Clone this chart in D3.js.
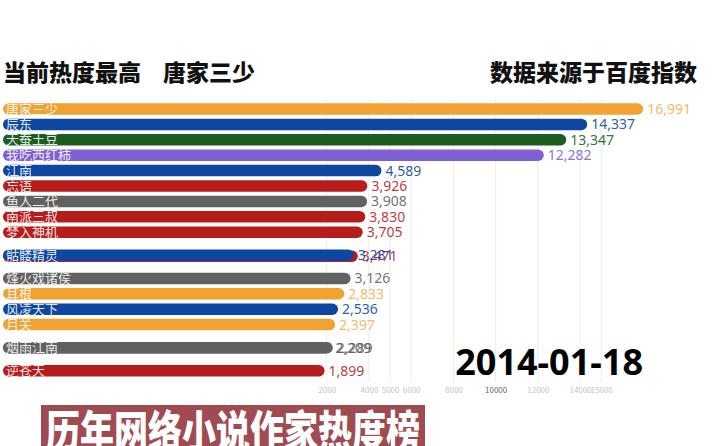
<!DOCTYPE html>
<html lang="zh">
<head>
  <meta charset="UTF-8">
  <title>历年网络小说作家热度榜</title>
  <script src="https://d3js.org/d3.v7.min.js"></script>
  <style>
    body { margin: 0; background: #fff; }
    text { font-family: "Noto Sans CJK SC", "Noto Sans", sans-serif; }
  </style>
</head>
<body>
  <div id="chart"></div>
  <script>

    // frame data (mid-transition frame, so some ranks are fractional)
    var names  = ["唐家三少", "辰东", "天蚕土豆", "我吃西红柿", "江南", "忘语", "鱼人二代", "南派三叔", "梦入神机",
                  "", "骷髅精灵", "烽火戏诸侯", "耳根", "风凌天下", "月关", "", "烟雨江南", "逆苍天"];
    var values = [16991, 14337, 13347, 12282, 4589, 3926, 3908, 3830, 3705,
                  3471, 3281, 3126, 2833, 2536, 2397, 2209, 2289, 1899];
    var ranks  = [0, 1, 2, 3, 4, 5, 6, 7, 8, 9.56, 9.5, 11, 12, 13, 14, 15.5, 15.5, 17];
    var colors = ["#f0a232", "#0d47a1", "#1b5e20", "#7e5fd4", "#0d47a1", "#b71c1c", "#616161", "#b71c1c", "#b71c1c",
                  "#b71c1c", "#0d47a1", "#616161", "#f0a232", "#0d47a1", "#f0a232", "#616161", "#616161", "#b71c1c"];
    var tickValues = [2000, 4000, 5000, 6000, 8000, 10000, 12000, 14000, 15000];
    var currentDate = "2014-01-18";

    var width = 714, height = 446;

    var svg = d3.select("#chart")
      .append("svg")
      .attr("width", width)
      .attr("height", height);

    // x scale: bars grow from the left edge of the plot
    var x = d3.scaleLinear()
      .domain([-13335, 17000])
      .range([3, 643.4]);

    var y = d3.scaleLinear()
      .domain([0, 17])
      .range([109, 370.8]);

    var barH = 11.5;

    // grid lines
    svg.append("g")
      .selectAll("line")
      .data(tickValues)
      .enter()
      .append("line")
      .attr("x1", function (d) { return x(d); })
      .attr("x2", function (d) { return x(d); })
      .attr("y1", 100)
      .attr("y2", 382)
      .attr("stroke", "#ececec")
      .attr("stroke-width", 1);

    // axis labels
    var axis = svg.append("g")
      .attr("transform", "translate(0,384)")
      .call(d3.axisBottom(x).tickValues(tickValues).tickSize(0).tickFormat(d3.format("d")));
    axis.select(".domain").remove();
    axis.selectAll("text")
      .attr("font-size", 8)
      .attr("fill", function (d) { return d === 10000 ? "#666" : "#c4c4c4"; });

    // bars
    var data = names.map(function (n, i) {
      return { name: n, value: values[i], rank: ranks[i], color: colors[i] };
    });

    var bar = svg.append("g")
      .selectAll("g")
      .data(data)
      .enter()
      .append("g")
      .attr("transform", function (d) { return "translate(0," + y(d.rank) + ")"; });

    bar.append("rect")
      .attr("x", x.range()[0])
      .attr("y", -barH / 2)
      .attr("width", function (d) { return x(d.value) - x.range()[0]; })
      .attr("height", barH)
      .attr("rx", barH / 2)
      .attr("fill", function (d) { return d.color; });

    bar.append("text")
      .attr("x", 6)
      .attr("dy", "0.36em")
      .attr("font-size", 13)
      .attr("fill", "#fff")
      .attr("fill-opacity", 0.9)
      .text(function (d) { return d.name; });

    bar.append("text")
      .attr("x", function (d) { return x(d.value) + 4; })
      .attr("dy", "0.36em")
      .attr("font-size", 14)
      .style("font-family", "'Noto Sans', sans-serif")
      .attr("fill", function (d) { return d.color; })
      .attr("fill-opacity", function (d) { return d.color === "#f0a232" ? 0.75 : 0.9; })
      .text(function (d) { return d3.format(",")(d.value); });

    // headers
    svg.append("text")
      .attr("x", 3)
      .attr("y", 81)
      .attr("font-size", 23)
      .attr("font-weight", "900")
      .attr("fill", "#111")
      .text("当前热度最高");
    svg.append("text")
      .attr("x", 163)
      .attr("y", 81)
      .attr("font-size", 23)
      .attr("font-weight", "900")
      .attr("fill", "#111")
      .text(names[0]);
    svg.append("text")
      .attr("x", 697)
      .attr("y", 81)
      .attr("text-anchor", "end")
      .attr("font-size", 23)
      .attr("font-weight", "900")
      .attr("fill", "#111")
      .text("数据来源于百度指数");

    // date
    svg.append("text")
      .attr("x", 643)
      .attr("y", 375)
      .attr("text-anchor", "end")
      .attr("font-size", 36)
      .attr("font-weight", "bold")
      .style("font-family", "'Noto Sans', sans-serif")
      .attr("fill", "#000")
      .text(currentDate);

    // bottom banner
    svg.append("rect")
      .attr("x", 41)
      .attr("y", 405)
      .attr("width", 384)
      .attr("height", 45)
      .attr("fill", "#a04a52");
    svg.append("text")
      .attr("transform", "translate(233,448) scale(1,1.3)")
      .attr("text-anchor", "middle")
      .attr("font-size", 34)
      .attr("font-weight", "900")
      .attr("fill", "#fff")
      .text("历年网络小说作家热度榜");

  </script>
</body>
</html>
